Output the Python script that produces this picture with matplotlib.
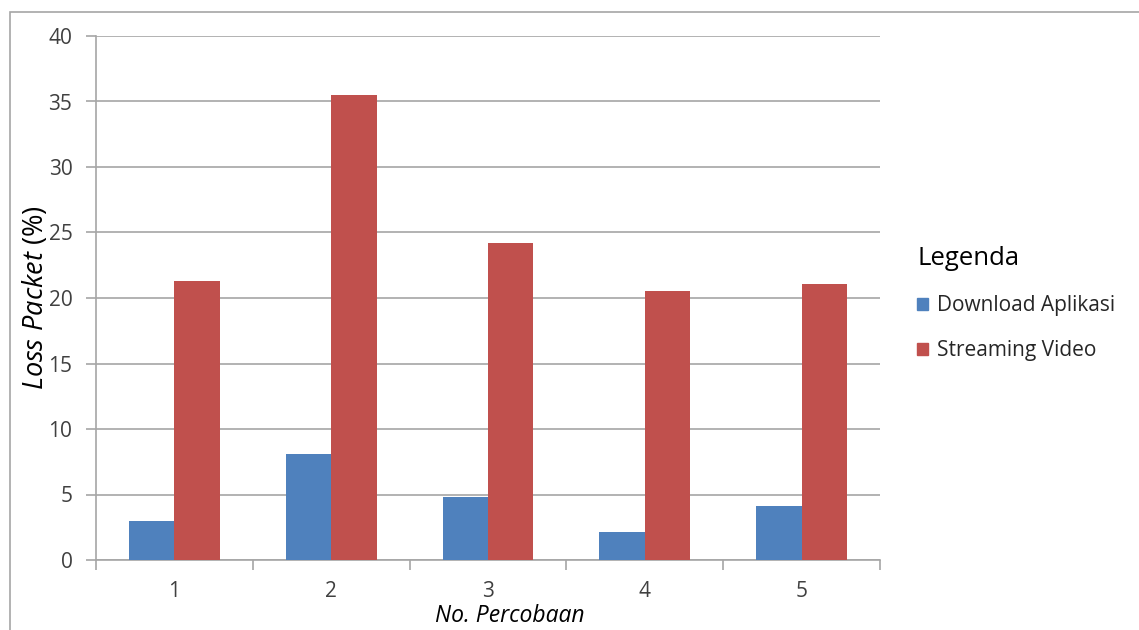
import numpy as np
import matplotlib
matplotlib.use('Agg')
import matplotlib.pyplot as plt
from matplotlib.patches import Patch, Rectangle

plt.rcParams['font.family'] = ['Open Sans', 'DejaVu Sans']
plt.rcParams['mathtext.fontset'] = 'custom'
plt.rcParams['mathtext.rm'] = 'Open Sans'
plt.rcParams['mathtext.it'] = 'Open Sans:italic'

# data
percobaan = [1, 2, 3, 4, 5]
download_aplikasi = [3.0, 8.1, 4.8, 2.1, 4.1]
streaming_video = [21.3, 35.5, 24.2, 20.5, 21.1]
series_names = ['Download Aplikasi', 'Streaming Video']
colors = ['#4F81BD', '#C0504D']

fig = plt.figure(figsize=(11.39, 6.3), dpi=100)
# outer chart border
fig.patches.append(Rectangle((10 / 1139, -0.05), 1.2, (630 - 12) / 630 + 0.05,
                             transform=fig.transFigure, fill=False,
                             edgecolor='#A6A6A6', linewidth=1.2))
ax = fig.add_axes([96 / 1139, 70 / 630, 784 / 1139, 524 / 630])

x = np.array(percobaan)
w = 0.29
ax.bar(x - w / 2, download_aplikasi, w, color=colors[0], zorder=3)
ax.bar(x + w / 2, streaming_video, w, color=colors[1], zorder=3)

ax.set_xlim(0.5, 5.5)
ax.set_ylim(0, 40)
ax.set_yticks(np.arange(0, 41, 5))
ax.yaxis.grid(True, color='#A6A6A6', linewidth=1.2, zorder=0)

ax.set_xticks(np.arange(0.5, 5.6, 1))
ax.set_xticklabels([])
ax.set_xticks(x, minor=True)
ax.set_xticklabels([str(p) for p in percobaan], minor=True)
ax.tick_params(axis='x', which='minor', length=0, pad=15, labelsize=15, colors='#404040')
ax.tick_params(axis='x', which='major', length=7, width=1.2, color='#A6A6A6')
ax.tick_params(axis='y', length=7, width=1.2, color='#A6A6A6', pad=10,
               labelsize=15, labelcolor='#404040')

for s in ['top', 'right']:
    ax.spines[s].set_visible(False)
for s in ['left', 'bottom']:
    ax.spines[s].set_color('#A6A6A6')
    ax.spines[s].set_linewidth(1.2)

fig.text(36 / 1139, 1 - 298 / 630, r'$\mathit{Loss\ Packet}$ (%)', rotation=90,
         ha='center', va='center', fontsize=19.5)
fig.text(510 / 1139, 2 / 630, 'No. Percobaan', ha='center', va='bottom',
         fontsize=16.5, style='italic')

handles = [Patch(color=c) for c in colors]
leg = fig.legend(handles, series_names, loc='upper left',
                 bbox_to_anchor=(909 / 1139, 1 - 238 / 630), frameon=False,
                 title='Legenda', title_fontsize=18.5, fontsize=15,
                 handlelength=0.5, handleheight=0.5, handletextpad=0.45,
                 labelspacing=1.15, alignment='left', borderaxespad=0)
for t in leg.get_texts():
    t.set_color('#262626')

fig.savefig('out.png', dpi=100)
